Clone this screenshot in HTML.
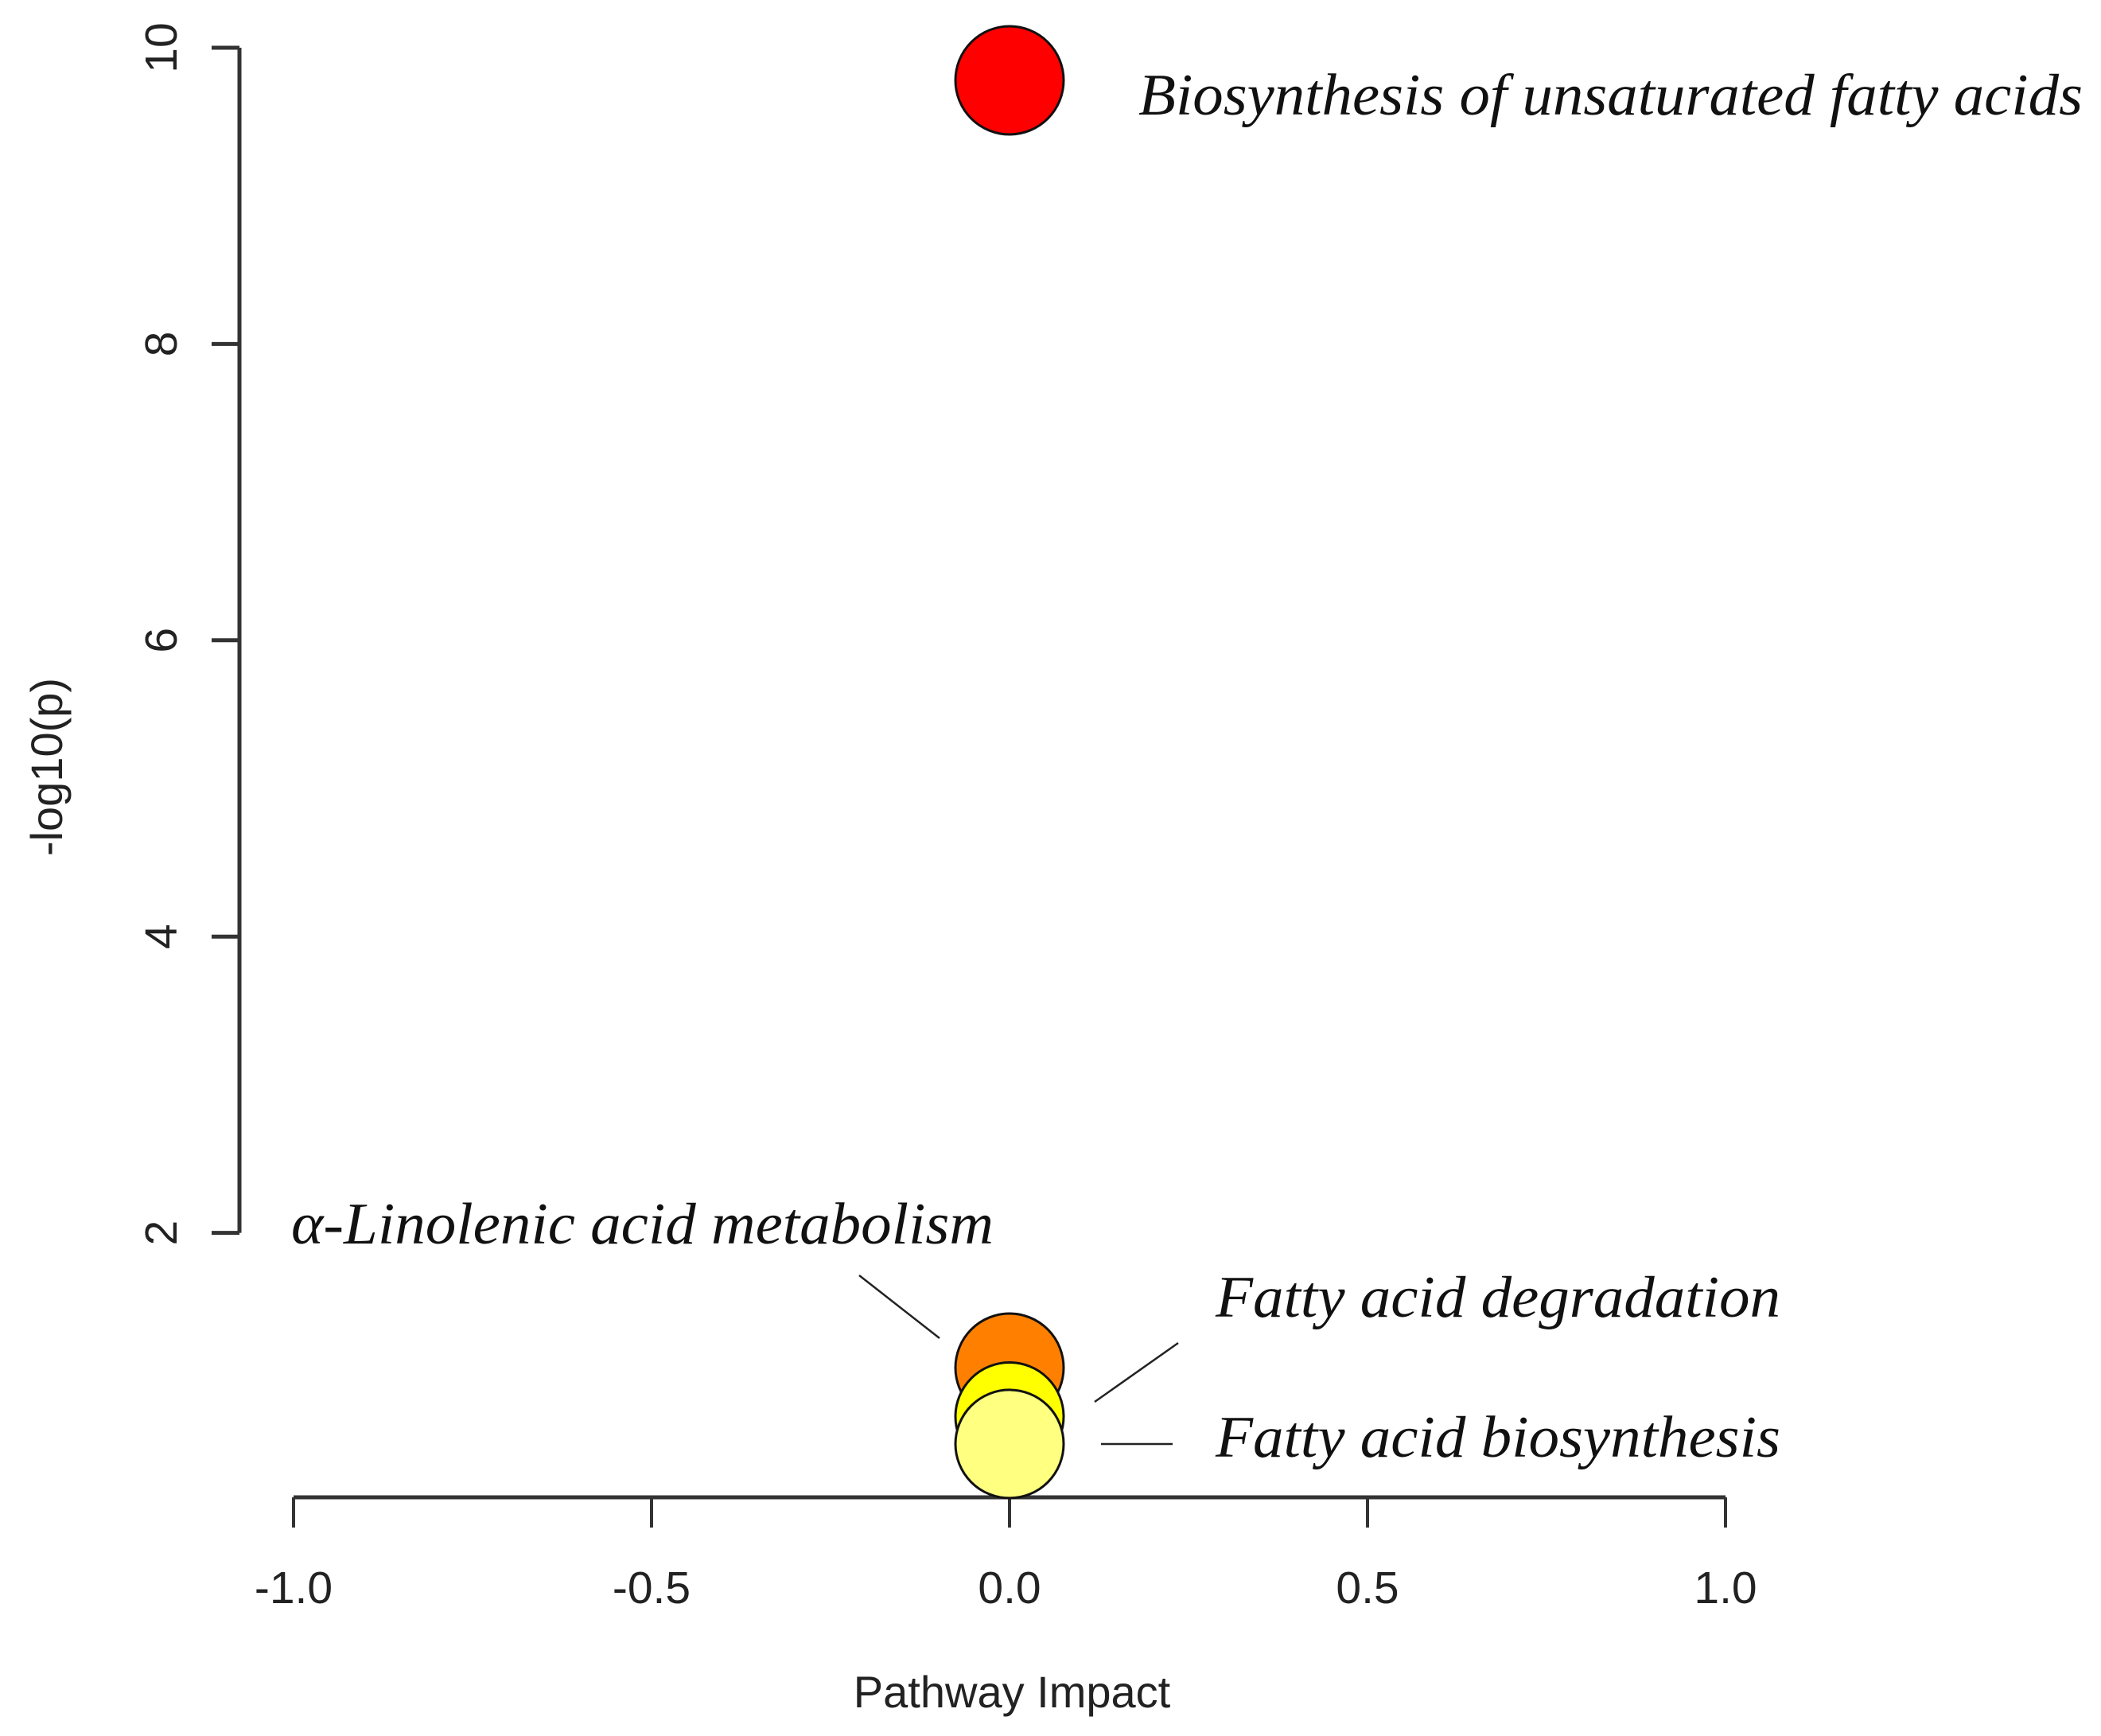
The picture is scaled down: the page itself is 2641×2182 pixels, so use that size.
<!DOCTYPE html>
<html><head><meta charset="utf-8"><style>html,body{margin:0;padding:0;background:#fff}svg{display:block}</style></head>
<body>
<svg id="chart" width="2641" height="2182" xmlns="http://www.w3.org/2000/svg">
<rect width="2641" height="2182" fill="#fff"/>
</svg>
<script>
const names=["Biosynthesis of unsaturated fatty acids","α-Linolenic acid metabolism","Fatty acid degradation","Fatty acid biosynthesis"];
const impact=[0,0,0,0];
const logp=[9.78,1.09,0.76,0.575];
const colors=["#ff0000","#ff8000","#ffff00","#ffff80"];
const xTicks=[-1.0,-0.5,0.0,0.5,1.0];
const xTickLabels=["-1.0","-0.5","0.0","0.5","1.0"];
const yTicks=[2,4,6,8,10];
const yTickLabels=["2","4","6","8","10"];

const svg=document.getElementById('chart');
const NS="http://www.w3.org/2000/svg";
function X(v){return 1269+v*900;}
function Y(v){return 1922-v*186.2;}
function el(tag,attrs,text){const e=document.createElementNS(NS,tag);for(const k in attrs)e.setAttribute(k,attrs[k]);if(text!==undefined)e.textContent=text;svg.appendChild(e);return e;}
const sans='"Liberation Sans", sans-serif', serif='"Liberation Serif", serif';

let a=el('line',{x1:301,y1:Y(10),x2:301,y2:Y(2),stroke:'#333','stroke-width':5});


yTicks.forEach((t,i)=>{
  const tk=el('line',{x1:266,y1:Y(t),x2:301,y2:Y(t),stroke:'#333','stroke-width':5});
  
  
  const yy=Y(t);
  const lb=el('text',{x:222,y:yy,'font-family':sans,'font-size':57,fill:'#222','text-anchor':'middle',transform:`rotate(-90 222 ${yy})`},yTickLabels[i]);
  
  
});
let yt=el('text',{x:78,y:964,'font-family':sans,'font-size':56,fill:'#222','text-anchor':'middle',transform:'rotate(-90 78 964)'},'-log10(p)');



let xa=el('line',{x1:X(-1),y1:1882,x2:X(1),y2:1882,stroke:'#333','stroke-width':5});


xTicks.forEach((t,i)=>{
  const tk=el('line',{x1:X(t),y1:1882,x2:X(t),y2:1920,stroke:'#333','stroke-width':4});
  
  
  const lb=el('text',{x:X(t),y:2015,'font-family':sans,'font-size':57,fill:'#222','text-anchor':'middle'},xTickLabels[i]);
  
  
});
let xt=el('text',{x:1272,y:2146,'font-family':sans,'font-size':56,fill:'#222','text-anchor':'middle'},'Pathway Impact');



names.forEach((n,i)=>{
  const c=el('ellipse',{cx:X(impact[i]),cy:Y(logp[i]),rx:68,ry:68,fill:colors[i],stroke:'#111','stroke-width':3});
  
  
});

const leaders=[[1080,1603,1181,1682],[1481,1688,1376,1762],[1384,1815,1474,1815]];
leaders.forEach(l=>{
  const ln=el('line',{x1:l[0],y1:l[1],x2:l[2],y2:l[3],stroke:'#222','stroke-width':2.5});
  
  
});

const labelPos=[[1431,144,1187],[366,1563,883],[1528,1655,710],[1528,1831,710]];
names.forEach((n,i)=>{
  const p=labelPos[i];
  const t=el('text',{x:p[0],y:p[1],'font-family':serif,'font-style':'italic','font-size':74,fill:'#111',textLength:p[2],lengthAdjust:'spacingAndGlyphs'},n);
  
  
});
</script>
</body></html>
